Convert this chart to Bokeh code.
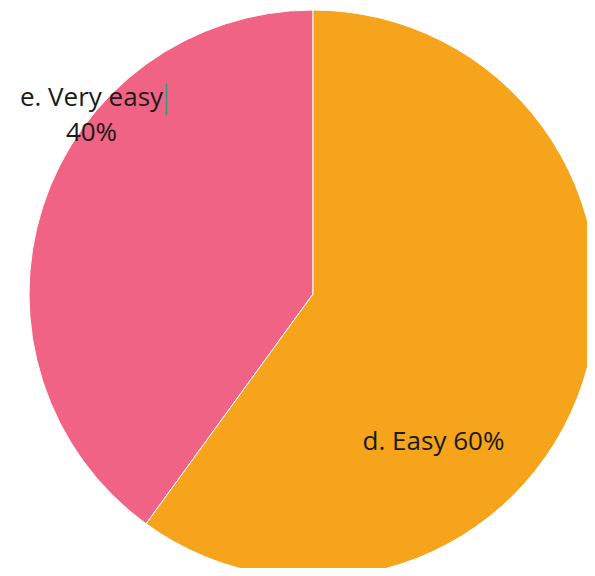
import math
from bokeh.plotting import figure
from bokeh.models import ColumnDataSource
from bokeh.core.properties import value
from bokeh.embed import file_html
from bokeh.resources import INLINE

# Data
categories = ["e. Very easy", "d. Easy"]
shares = [40, 60]
colors = ["#F06384", "#F5A41B"]
label_lines = [["e. Very easy", "40%"], ["d. Easy 60%"]]

W, H = 587, 568
p = figure(width=W, height=H, x_range=(0, W), y_range=(0, H),
           output_backend="svg", toolbar_location=None, min_border=0)
p.axis.visible = False
p.grid.visible = False
p.outline_line_color = None
p.background_fill_color = "white"
p.border_fill_color = "white"

cx, cy, R = 312.5, H - 293.5, 284.0

# wedges: start at top (90 deg), going anticlockwise
total = float(sum(shares))
starts, ends = [], []
a = math.pi / 2
for s in shares:
    starts.append(a)
    a += 2 * math.pi * s / total
    ends.append(a)

src = ColumnDataSource(dict(x=[cx] * len(shares), y=[cy] * len(shares),
                            start=starts, end=ends, color=colors, cat=categories))
p.wedge(x="x", y="y", radius=R, start_angle="start", end_angle="end",
        direction="anticlock", fill_color="color", line_color="white",
        line_width=1, source=src)

# label anchors (offsets from the pie centre, in px) and line spacing
label_offsets = [(-221.5, 198.5), (120.5, -145.5)]
line_gap = 35
lx, ly, lt = [], [], []
for (dx, dy), lines in zip(label_offsets, label_lines):
    for i, t in enumerate(lines):
        lx.append(cx + dx)
        ly.append(cy + dy - i * line_gap)
        lt.append(t)
p.text(x=lx, y=ly, text=lt, text_align="center", text_baseline="middle",
       text_font=value("Open Sans"), text_font_size="26px", text_color="#1a1a1a")

# text cursor mark next to label
p.segment(x0=[166], y0=[H - 83], x1=[166], y1=[H - 115],
          line_color="#2E9A7C", line_width=1.5)

open("out.html", "w").write(file_html(p, INLINE))
